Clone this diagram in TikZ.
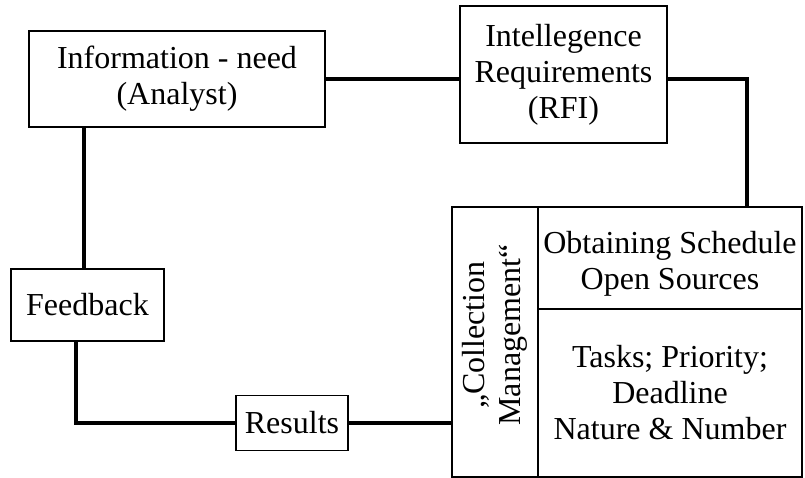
\documentclass[tikz,border=0pt]{standalone}
\usepackage{fontspec}
\setmainfont{Liberation Serif}
\begin{document}
\begin{tikzpicture}[x=1pt,y=-1pt,
  box/.style={draw,line width=1.4pt,rectangle,inner sep=0pt,align=center,
    font=\fontsize{32}{36}\selectfont},
  txt/.style={align=center,inner sep=0pt,font=\fontsize{32}{36}\selectfont},
  conn/.style={line width=4pt}]
\useasboundingbox (0,0) rectangle (805,478);
\node[box,minimum width=296pt,minimum height=96pt] (info) at (177,79)
  {Information - need\\(Analyst)};
\node[box,minimum width=207pt,minimum height=137pt] (intel) at (563.5,74.5)
  {Intellegence\\Requirements\\(RFI)};
\node[box,minimum width=153pt,minimum height=72pt] (fb) at (87.5,305) {Feedback};
\node[box,minimum width=112pt,minimum height=55pt] (res) at (292,423) {Results};
\node[box,minimum width=86pt,minimum height=270pt] (cmL) at (495,342) {};
\node[txt,rotate=90] (cmLt) at ([yshift=7pt]cmL.center)
  {„Collection\\Management“};
\node[box,minimum width=264pt,minimum height=102pt] (cmT) at (670,258) {};
\node[txt] (cmTt) at ([yshift=-6pt]cmT.center) {Obtaining Schedule\\Open Sources};
\node[box,minimum width=264pt,minimum height=168pt] (cmB) at (670,393)
  {Tasks; Priority;\\Deadline\\Nature \& Number};
\draw[conn] (info.east) -- (info.east -| intel.west);
\draw[conn] (info.east -| intel.east) -| ([xshift=77pt]cmT.north);
\draw[conn] ([xshift=-93pt]info.south) -- ([xshift=-93pt]info.south |- fb.north);
\draw[conn] ([xshift=-11.5pt]fb.south) |- (res.west);
\draw[conn] (res.east) -- (res.east -| cmL.west);
\end{tikzpicture}
\end{document}
